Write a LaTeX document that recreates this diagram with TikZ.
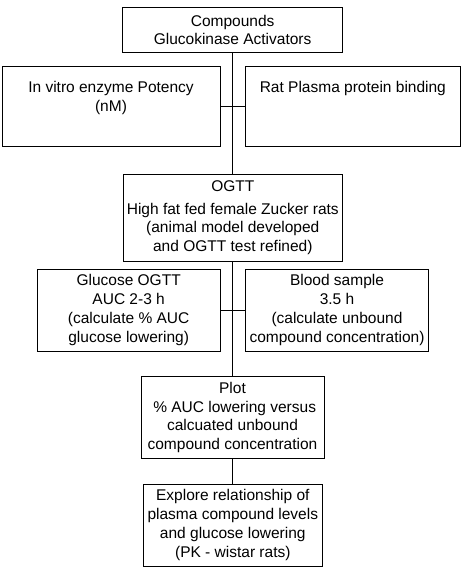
\documentclass[tikz,border=0pt]{standalone}
\usepackage{fontspec}
\setmainfont{Liberation Sans}
\begin{document}
\begin{tikzpicture}[x=1pt,y=-1pt,
  box/.style={draw=black, line width=0.8pt, inner sep=0pt, fill=white},
  txt/.style={font=\fontsize{15.5}{18.7}\selectfont, align=center, inner sep=0pt, text=black},
  link/.style={draw=black, line width=0.8pt}]
\useasboundingbox (0,0) rectangle (466,570);
% boxes
\node[box, minimum width=219.6pt, minimum height=45.4pt, txt] (top) at (232.6,30) {Compounds\\Glucokinase Activators};
\node[box, minimum width=218pt, minimum height=80pt] (vitro) at (111,106.7) {};
\node[txt, anchor=north] (vitrot) at ([yshift=-15pt]vitro.north) {In vitro enzyme Potency\\(nM)};
\node[box, minimum width=214.3pt, minimum height=80pt] (rpb) at (352.85,106.7) {};
\node[txt, anchor=north] (rpbt) at ([yshift=-15pt]rpb.north) {Rat Plasma protein binding};
\node[box, minimum width=219pt, minimum height=87.7pt, txt] (ogtt) at (232.8,217.85) {OGTT\\[3.5pt]High fat fed female Zucker rats\\(animal model developed\\and OGTT test refined)};
\node[box, minimum width=182.7pt, minimum height=82pt, txt] (gluc) at (128.65,310) {Glucose OGTT\\AUC 2-3 h\\(calculate \% AUC\\glucose lowering)};
\node[box, minimum width=182.6pt, minimum height=82pt, txt] (blood) at (337,310) {Blood sample\\3.5 h\\(calculate unbound\\compound concentration)};
\node[box, minimum width=183pt, minimum height=81.6pt, txt] (plot) at (232.5,417.5) {Plot\\\ \% AUC lowering versus\\calcuated unbound\\compound concentration};
\node[box, minimum width=179pt, minimum height=82pt, txt] (explore) at (232.8,525) {Explore relationship of\\plasma compound levels\\and glucose lowering\\(PK - wistar rats)};
% connectors
\draw[link] (top.south) -- (top.south |- ogtt.north);
\draw[link] (vitro.east) -- (rpb.west);
\draw[link] (ogtt.south) -- (ogtt.south |- plot.north);
\draw[link] (gluc.east) -- (blood.west);
\draw[link] (plot.south) -- (plot.south |- explore.north);
\end{tikzpicture}
\end{document}
